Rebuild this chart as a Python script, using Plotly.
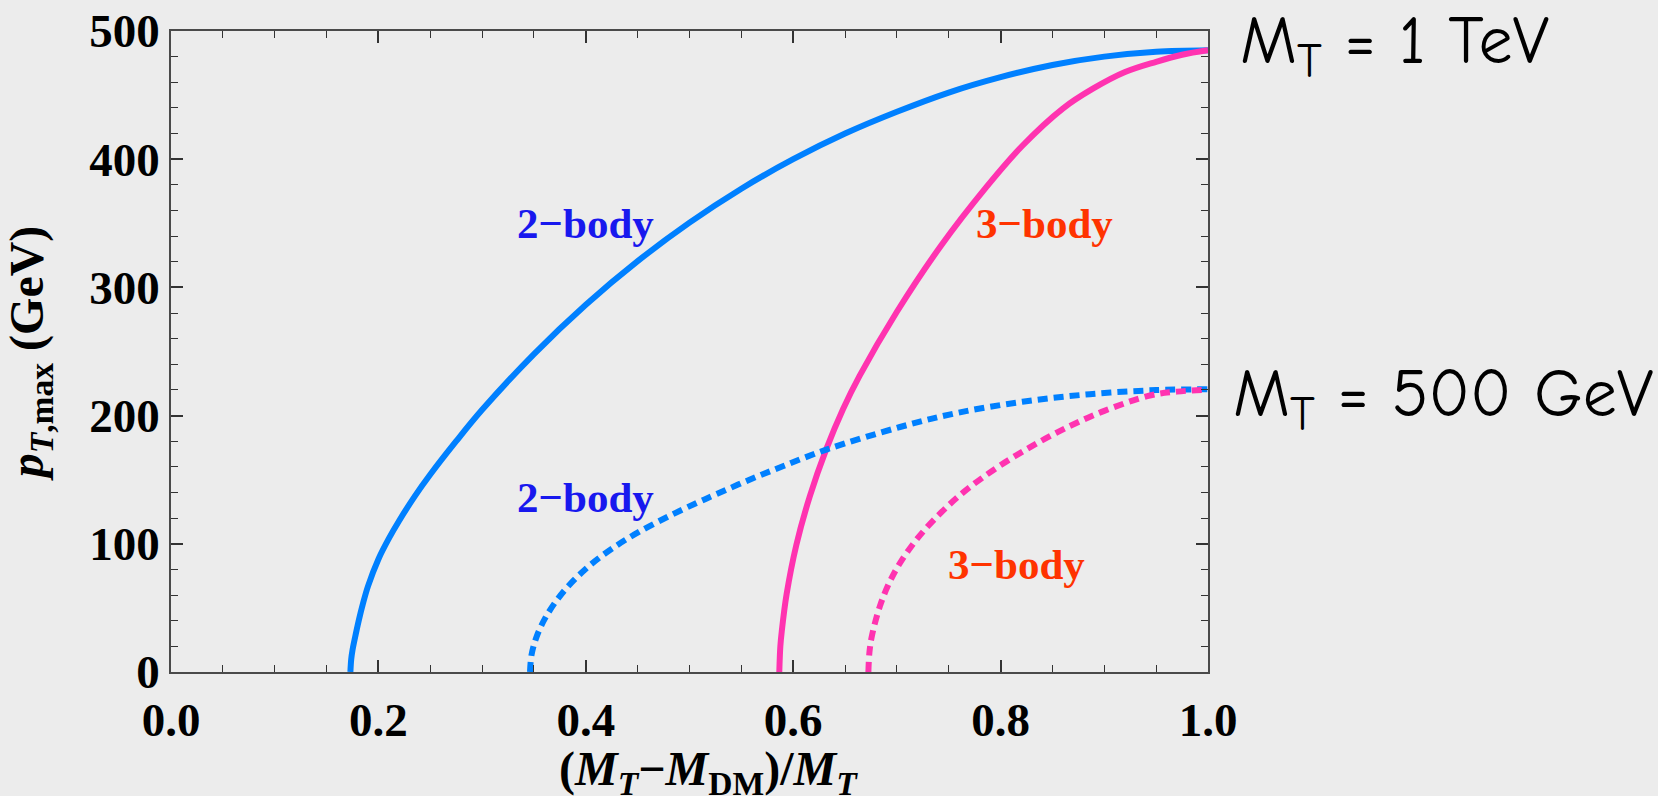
import plotly.graph_objects as go

# M_T = 1 TeV, 2-body (solid blue)
x_2body_1tev = [0.173, 0.1738, 0.175, 0.1775, 0.181, 0.185, 0.19, 0.20, 0.21, 0.22, 0.235,
                0.25, 0.275, 0.30, 0.35, 0.40, 0.45, 0.50, 0.55, 0.60, 0.65, 0.70, 0.75,
                0.80, 0.85, 0.90, 0.95, 1.0]
y_2body_1tev = [0, 10, 17, 27, 40, 53, 67, 88, 104, 118, 137,
                154, 180, 204.5, 248, 286.5, 320.5, 350.5, 377, 400, 420, 437, 452,
                464, 473.5, 480, 483.8, 485]

# M_T = 1 TeV, 3-body (solid pink)
x_3body_1tev = [0.5866, 0.5876, 0.589, 0.5937, 0.603, 0.616, 0.632, 0.648, 0.664, 0.70, 0.7425,
                0.786, 0.821, 0.86, 0.889, 0.92, 0.95, 0.975, 1.0]
y_3body_1tev = [0, 20, 32, 61, 99, 137, 174, 205, 231, 281, 332.5,
                378, 410.5, 439.5, 455, 468, 476, 481.5, 485]

# M_T = 500 GeV, 2-body (dashed blue)
x_2body_500 = [0.3462, 0.3477, 0.3526, 0.362, 0.378, 0.401, 0.4265, 0.452, 0.481, 0.507, 0.526,
               0.559, 0.59, 0.632, 0.703, 0.757, 0.821, 0.886, 0.95, 1.0]
y_2body_500 = [0, 13.4, 27.6, 43.7, 62.2, 81.2, 96.9, 109.6, 121.9, 131.9, 138.7,
               150.4, 160.5, 173.5, 191.1, 201.9, 210.8, 216.7, 219.9, 220.5]

# M_T = 500 GeV, 3-body (dashed pink)
x_3body_500 = [0.6725, 0.6735, 0.6757, 0.6837, 0.693, 0.703, 0.72, 0.7425, 0.764, 0.786, 0.81,
               0.829, 0.85, 0.872, 0.90, 0.944, 0.97, 1.0]
y_3body_500 = [0, 15.2, 27.4, 51.6, 70.2, 85.0, 104.4, 124.3, 140.1, 153.6, 166.5,
               175.6, 185, 193.9, 203.7, 215.7, 218.7, 220.3]

x_ticks = [0.0, 0.2, 0.4, 0.6, 0.8, 1.0]
y_ticks = [0, 100, 200, 300, 400, 500]

BLUE = '#0080ff'
PINK = '#ff33b0'
LABEL_BLUE = '#1818ee'
LABEL_RED = '#ff3300'
BG = '#ececec'
SERIF = 'Liberation Serif, Times New Roman, serif'
HAND = 'Comic Sans MS, Comic Neue, Noto Sans, sans-serif'
DASH = '10px,6px'

fig = go.Figure()

def add_curve(x, y, color, dash):
    fig.add_trace(go.Scatter(
        x=x, y=y, mode='lines',
        line=dict(color=color, width=6, dash=dash, shape='spline', smoothing=1.0),
        showlegend=False, hoverinfo='skip'
    ))

add_curve(x_2body_1tev, y_2body_1tev, BLUE, 'solid')
add_curve(x_3body_1tev, y_3body_1tev, PINK, 'solid')
add_curve(x_2body_500, y_2body_500, BLUE, DASH)
add_curve(x_3body_500, y_3body_500, PINK, DASH)

# curve labels
labels = [
    (0.40, 350, '2\u2212body', LABEL_BLUE),
    (0.40, 136, '2\u2212body', LABEL_BLUE),
    (0.842, 350, '3\u2212body', LABEL_RED),
    (0.815, 84, '3\u2212body', LABEL_RED),
]
for lx, ly, txt, col in labels:
    fig.add_annotation(x=lx, y=ly, text=txt, showarrow=False,
                       font=dict(family=SERIF, size=43, color=col, weight='bold'))

# mass labels to the right of the frame
fig.add_annotation(xref='paper', yref='paper', x=1.029, y=0.977, xanchor='left', yanchor='middle',
                   text='M<sub>T</sub> = 1 TeV', showarrow=False,
                   font=dict(family=HAND, size=68, color='black'))
fig.add_annotation(xref='paper', yref='paper', x=1.022, y=0.427, xanchor='left', yanchor='middle',
                   text='M<sub>T</sub> = 500 GeV', showarrow=False,
                   font=dict(family=HAND, size=68, color='black'))

# x axis title as an annotation so it can sit low near the page edge like the original
fig.add_annotation(xref='paper', yref='paper', x=0.518, y=-0.106, xanchor='center', yanchor='top',
                   text='(<i>M<sub>T</sub></i>\u2212<i>M</i><sub>DM</sub>)/<i>M<sub>T</sub></i>',
                   showarrow=False,
                   font=dict(family=SERIF, size=48, color='black', weight='bold'))

axis_common = dict(
    showline=True, linecolor='#4a4a4a', linewidth=1.6, mirror='allticks',
    ticks='inside', ticklen=12, tickwidth=1.6, tickcolor='#333',
    showgrid=False, zeroline=False, automargin=False,
    tickfont=dict(family=SERIF, size=47, color='black', weight='bold'),
)

fig.update_layout(
    width=1658, height=796,
    paper_bgcolor=BG, plot_bgcolor=BG,
    margin=dict(l=171, r=450, t=31, b=124),
    xaxis=dict(
        range=[0, 1], tickvals=x_ticks, ticktext=[f'{v:.1f}' for v in x_ticks],
        minor=dict(ticks='inside', dtick=0.05, ticklen=7, tickwidth=1.2, tickcolor='#333'),
        ticklabelstandoff=6,
        **axis_common
    ),
    yaxis=dict(
        range=[0, 500], tickvals=y_ticks,
        minor=dict(ticks='inside', dtick=20, ticklen=7, tickwidth=1.2, tickcolor='#333'),
        ticklabelstandoff=0,
        title=dict(text='<i>p</i><sub><i>T</i>,max</sub> (GeV)',
                   font=dict(family=SERIF, size=48, color='black', weight='bold'), standoff=44),
        **axis_common
    ),
)

# drop the default page margin so the figure sits at the window's corner
fig.write_html("out.html", config={'displayModeBar': False},
               post_script="document.body.style.margin='0';document.body.style.overflow='hidden';")
